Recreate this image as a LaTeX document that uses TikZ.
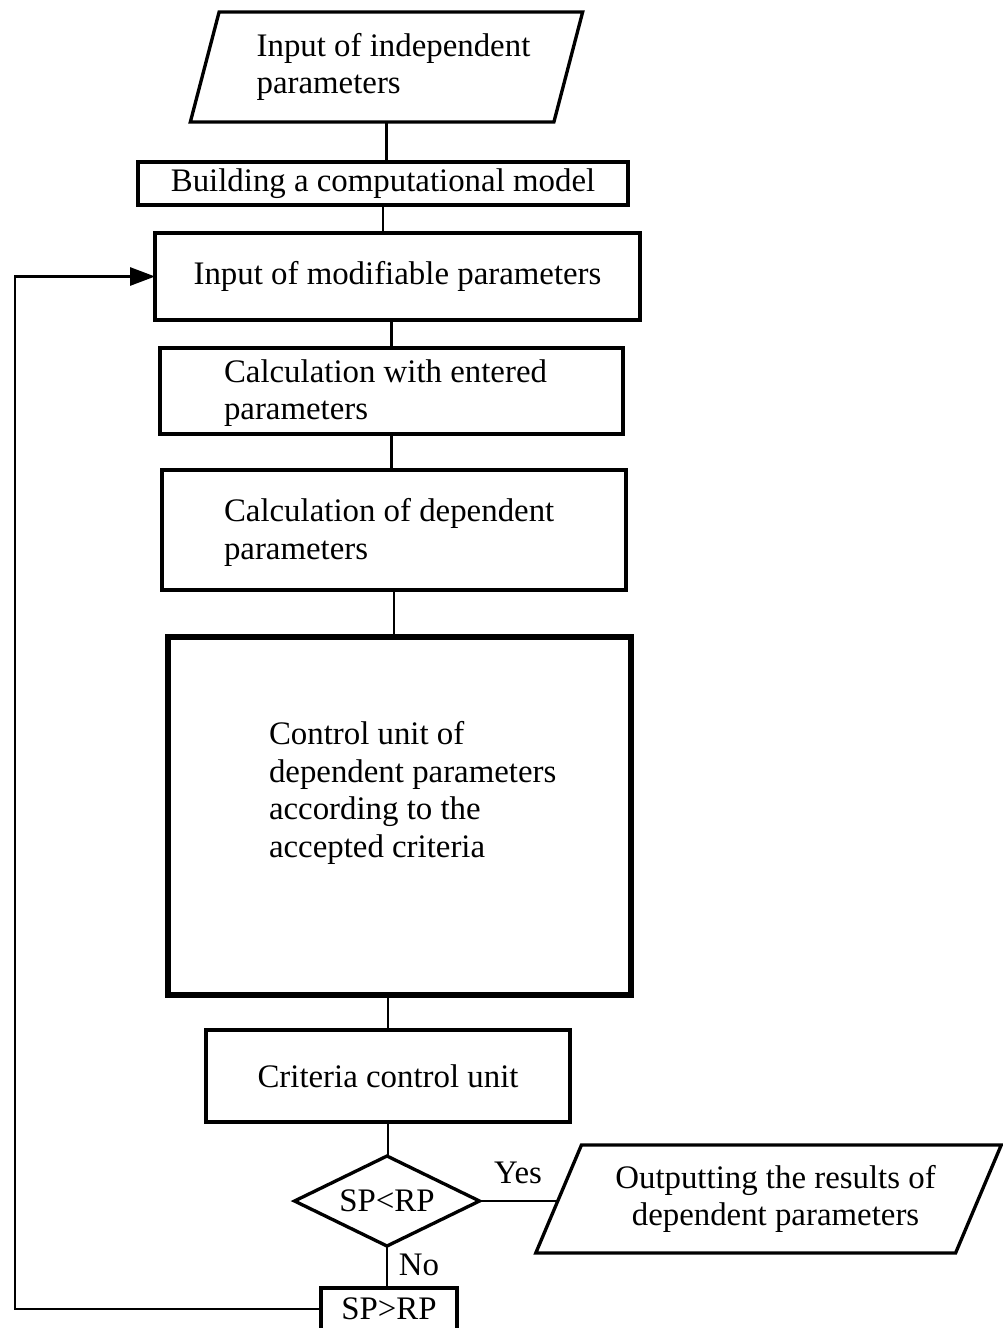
\documentclass[tikz,border=0pt]{standalone}
\usepackage{fontspec}
\setmainfont{Liberation Serif}
\usetikzlibrary{shapes.geometric,arrows.meta}
\begin{document}
\begin{tikzpicture}[x=0.02cm,y=-0.02cm,
  every node/.style={font=\fontsize{18.7pt}{21.5pt}\selectfont, inner sep=0pt, outer sep=0pt},
  box/.style={draw, line width=1.9pt, rectangle},
  thickbox/.style={draw, line width=3.4pt, rectangle},
  para/.style={draw, line width=1.9pt, trapezium, trapezium stretches=true},
  decision/.style={draw, line width=1.9pt, diamond, aspect=2},
  txt/.style={align=left, anchor=west},
  conn/.style={line width=1.4pt},
  loopline/.style={line width=1.6pt, -{Triangle[length=0.5cm,width=0.36cm]}}
]
\useasboundingbox (0,0) rectangle (1003,1328);
\clip (0,0) rectangle (1003,1328);

% nodes
\node[para, trapezium left angle=70, trapezium right angle=110,
      minimum width=7.86cm, minimum height=2.2cm, align=left] (in1) at (386.5,67)
      {\hspace*{0.28cm}Input of independent\\\hspace*{0.28cm}parameters};
\node[box, minimum width=9.8cm, minimum height=0.86cm] (build) at (383,183.5)
      {Building a computational model};
\node[box, minimum width=9.7cm, minimum height=1.74cm] (modif) at (397.5,276.5)
      {Input of modifiable parameters};
\node[box, minimum width=9.26cm, minimum height=1.72cm] (calc1) at (391.5,391) {};
\node[txt] (calc1t) at (224,393) {Calculation with entered\\parameters};
\node[box, minimum width=9.28cm, minimum height=2.4cm] (calc2) at (394,530) {};
\node[txt] (calc2t) at (224,532.5) {Calculation of dependent\\parameters};
\node[thickbox, minimum width=9.26cm, minimum height=7.18cm] (ctrl) at (399.5,816) {};
\node[txt] (ctrlt) at (269,793) {Control unit of\\dependent parameters\\according to the\\accepted criteria};
\node[box, minimum width=7.28cm, minimum height=1.84cm] (crit) at (388,1076)
      {Criteria control unit};
\node[decision, minimum width=3.7cm, minimum height=1.8cm] (dec) at (387,1201) {SP<RP};
\node[para, trapezium left angle=59, trapezium right angle=121,
      minimum width=9.34cm, minimum height=2.16cm, align=center] (out) at (768.5,1199)
      {\hspace*{0.28cm}Outputting the results of\\\hspace*{0.28cm}dependent parameters};
\node[box, minimum width=2.72cm, minimum height=0.84cm] (spgt) at (389,1309) {SP>RP};

\node (yes) at (518,1173) {Yes};
\node (no) at (419,1265) {No};

% connectors
\draw[conn] (build.north -| in1.south) -- (in1.south);
\draw[conn] (build.south) -- (build.south |- modif.north);
\draw[conn] (calc1.north |- modif.south) -- (calc1.north);
\draw[conn] (calc1.south) -- (calc1.south |- calc2.north);
\draw[conn] (calc2.south) -- (calc2.south |- ctrl.north);
\draw[conn] (crit.north |- ctrl.south) -- (crit.north);
\draw[conn] (crit.south) -- (crit.south |- dec.north);
\draw[conn] (dec.east) -- (dec.east -| out.west);
\draw[conn] (dec.south) -- (dec.south |- spgt.north);

\coordinate (lx) at (15,0);
\draw[loopline] (spgt.west) -- (spgt.west -| lx) |- (modif.west);
\end{tikzpicture}
\end{document}
